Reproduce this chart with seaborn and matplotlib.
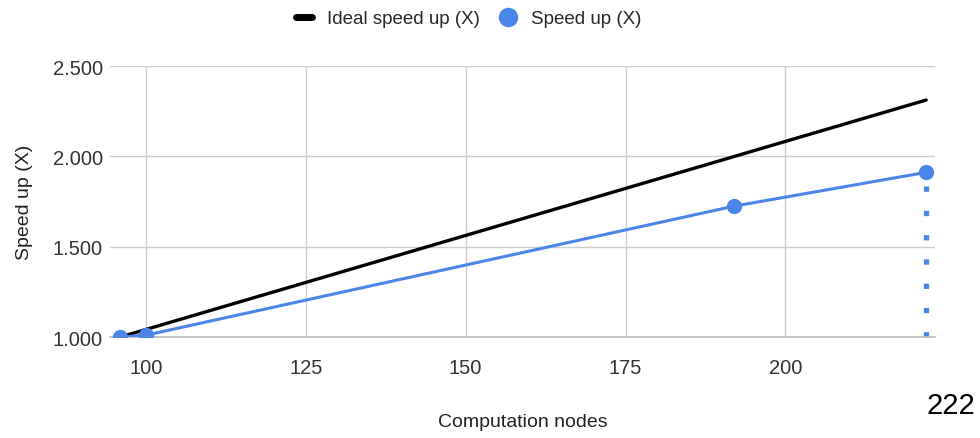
import matplotlib
matplotlib.use("Agg")
import matplotlib.pyplot as plt
import seaborn as sns
import pandas as pd
from matplotlib.lines import Line2D
from matplotlib.ticker import FuncFormatter

nodes = [96, 100, 192, 222]
ideal_speedup = [1.0, 1.0417, 2.0, 2.3125]
speedup = [1.0, 1.01, 1.725, 1.912]
x_ticks = [100, 125, 150, 175, 200]
y_ticks = [1.0, 1.5, 2.0, 2.5]
annot_label = "222"

sns.set_theme(style="white")
plt.rcParams['font.family'] = ['Liberation Sans', 'DejaVu Sans']

df = pd.DataFrame({"nodes": nodes, "ideal": ideal_speedup, "speed": speedup})

fig = plt.figure(figsize=(9.8, 4.39), dpi=100)
ax = fig.add_axes([0.1122, 0.230, 0.842, 0.617])

blue = "#4a86e8"
sns.lineplot(data=df, x="nodes", y="ideal", ax=ax, color="black", lw=2.4, zorder=3)
sns.lineplot(data=df, x="nodes", y="speed", ax=ax, color=blue, lw=2.2,
             marker="o", markersize=11, markeredgewidth=0, zorder=4, clip_on=True)

# dotted drop line at the last point
ax.plot([nodes[-1], nodes[-1]], [y_ticks[0], speedup[-1]], color=blue, lw=3.8,
        linestyle=(0, (1, 3.6)), zorder=2, clip_on=False)

ax.set_xlim(94.4, 223.4)
ax.set_ylim(1.0, 2.5)
ax.set_xticks(x_ticks)
ax.set_yticks(y_ticks)
ax.yaxis.set_major_formatter(FuncFormatter(lambda v, p: f"{v:.3f}"))
ax.grid(True, color="#cccccc", lw=1)
for s in ["top", "right", "left"]:
    ax.spines[s].set_visible(False)
ax.spines["bottom"].set_color("#bbbbbb")
ax.tick_params(axis="both", labelsize=14.5, colors="#333333", length=0)
ax.tick_params(axis="x", pad=15)
ax.tick_params(axis="y", pad=5)

ax.set_xlabel("Computation nodes", fontsize=14, color="#222222", labelpad=26)
ax.set_ylabel("Speed up (X)", fontsize=14, color="#222222", labelpad=14)

handles = [Line2D([0], [0], color="black", lw=5),
           Line2D([0], [0], color=blue, marker="o", markersize=14, lw=0, markeredgewidth=0)]
fig.legend(handles, ["Ideal speed up (X)", "Speed up (X)"], loc="center",
           bbox_to_anchor=(0.478, 0.955), ncol=2, frameon=False, fontsize=13.5,
           handlelength=0.9, columnspacing=1.0, handletextpad=0.8)

fig.text(0.995, 0.075, annot_label, fontsize=21, ha="right", va="center", color="black")

fig.savefig("out.png", dpi=100)
